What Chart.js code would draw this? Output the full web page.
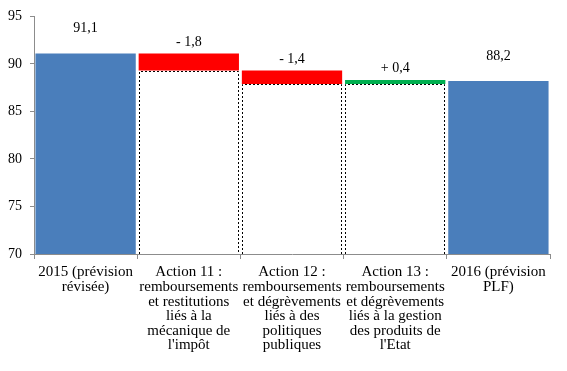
<!DOCTYPE html>
<html>
<head>
<meta charset="utf-8">
<script src="https://cdn.jsdelivr.net/npm/chart.js@4/dist/chart.umd.min.js"></script>
<style>
html,body{margin:0;padding:0;background:#fff;}
#wrap{width:567px;height:371px;position:relative;}
</style>
</head>
<body>
<div id="wrap"><canvas id="c" width="567" height="371"></canvas></div>
<script>
// ---- data ----
const categories = [
  ["2015 (prévision", "révisée)"],
  ["Action 11 :", "remboursements", "et restitutions", "liés à la", "mécanique de", "l'impôt"],
  ["Action 12 :", "remboursements", "et dégrèvements", "liés à des", "politiques", "publiques"],
  ["Action 13 :", "remboursements", "et dégrèvements", "liés à la gestion", "des produits de", "l'Etat"],
  ["2016 (prévision", "PLF)"]
];
const totals  = [91.1, null, null, null, 88.2];
const bases   = [null, 89.3, 87.9, 87.9, null];
const changes = [null, -1.8, -1.4, 0.4, null];
const valueLabels = ["91,1", "- 1,8", "- 1,4", "+ 0,4", "88,2"];
const yTicks = [70, 75, 80, 85, 90, 95];

const changeSizes = changes.map(v => v === null ? null : Math.abs(v));
const changeColors = changes.map(v => v === null ? 'rgba(0,0,0,0)' : (v < 0 ? '#FF0000' : '#00B050'));

const FONT = "'Liberation Serif', 'Times New Roman', serif";

const dottedBase = {
  id: 'dottedBase',
  afterDatasetsDraw(chart) {
    const meta = chart.getDatasetMeta(0);
    const area = chart.chartArea;
    const ctx = chart.ctx;
    ctx.save();
    ctx.strokeStyle = '#000';
    ctx.lineWidth = 1;
    ctx.setLineDash([2, 2]);
    meta.data.forEach((el, i) => {
      if (bases[i] === null) return;
      const p = el.getProps(['x', 'y', 'base', 'width'], true);
      const l = Math.round(p.x - p.width / 2) + 0.5;
      const r = Math.round(p.x + p.width / 2) - 0.5;
      const t = Math.round(p.y) + 0.5;
      const b = Math.min(p.base, area.bottom);
      ctx.beginPath();
      ctx.moveTo(l, b);
      ctx.lineTo(l, t);
      ctx.lineTo(r, t);
      ctx.lineTo(r, b);
      ctx.stroke();
    });
    ctx.restore();
  }
};

const valueLabelPlugin = {
  id: 'valueLabels',
  afterDatasetsDraw(chart) {
    const ctx = chart.ctx;
    ctx.save();
    ctx.font = "14px " + FONT;
    ctx.fillStyle = '#000';
    ctx.textAlign = 'center';
    ctx.textBaseline = 'middle';
    valueLabels.forEach((txt, i) => {
      let el, off;
      if (totals[i] !== null) {
        el = chart.getDatasetMeta(2).data[i];
        off = 25;
      } else {
        el = chart.getDatasetMeta(1).data[i];
        off = 11.5;
      }
      const p = el.getProps(['x', 'y'], true);
      ctx.fillText(txt, p.x, p.y - off);
    });
    ctx.restore();
  }
};

new Chart(document.getElementById('c'), {
  type: 'bar',
  data: {
    labels: categories,
    datasets: [
      { label: 'base', data: bases, backgroundColor: 'rgba(255,255,255,0)', borderWidth: 0 },
      { label: 'variation', data: changeSizes, backgroundColor: changeColors, borderWidth: 0 },
      { label: 'total', data: totals, backgroundColor: '#4A7EBB', borderWidth: 0 }
    ]
  },
  options: {
    responsive: false,
    animation: false,
    devicePixelRatio: 1,
    layout: { padding: { left: 0, right: 17, top: 15, bottom: 0 } },
    datasets: { bar: { categoryPercentage: 0.972, barPercentage: 1, grouped: false } },
    plugins: { legend: { display: false }, tooltip: { enabled: false } },
    scales: {
      x: {
        stacked: true,
        offset: true,
        grid: { display: true, drawOnChartArea: false, offset: true, tickLength: 5, color: '#8c8c8c' },
        border: { display: true, color: '#8c8c8c' },
        ticks: {
          maxRotation: 0, autoSkip: false, padding: 6, color: '#000',
          font: { family: FONT, size: 15, lineHeight: 0.975 }
        },
        afterFit(scale) { scale.height = 117; }
      },
      y: {
        stacked: true,
        min: 70, max: 95,
        afterBuildTicks(scale) { scale.ticks = yTicks.map(v => ({ value: v })); },
        grid: { display: true, drawOnChartArea: false, tickLength: 4, color: '#8c8c8c' },
        border: { display: true, color: '#8c8c8c' },
        ticks: { padding: 8, color: '#000', font: { family: FONT, size: 14 } },
        afterFit(scale) { scale.width = 34; }
      }
    }
  },
  plugins: [dottedBase, valueLabelPlugin]
});
</script>
</body>
</html>
